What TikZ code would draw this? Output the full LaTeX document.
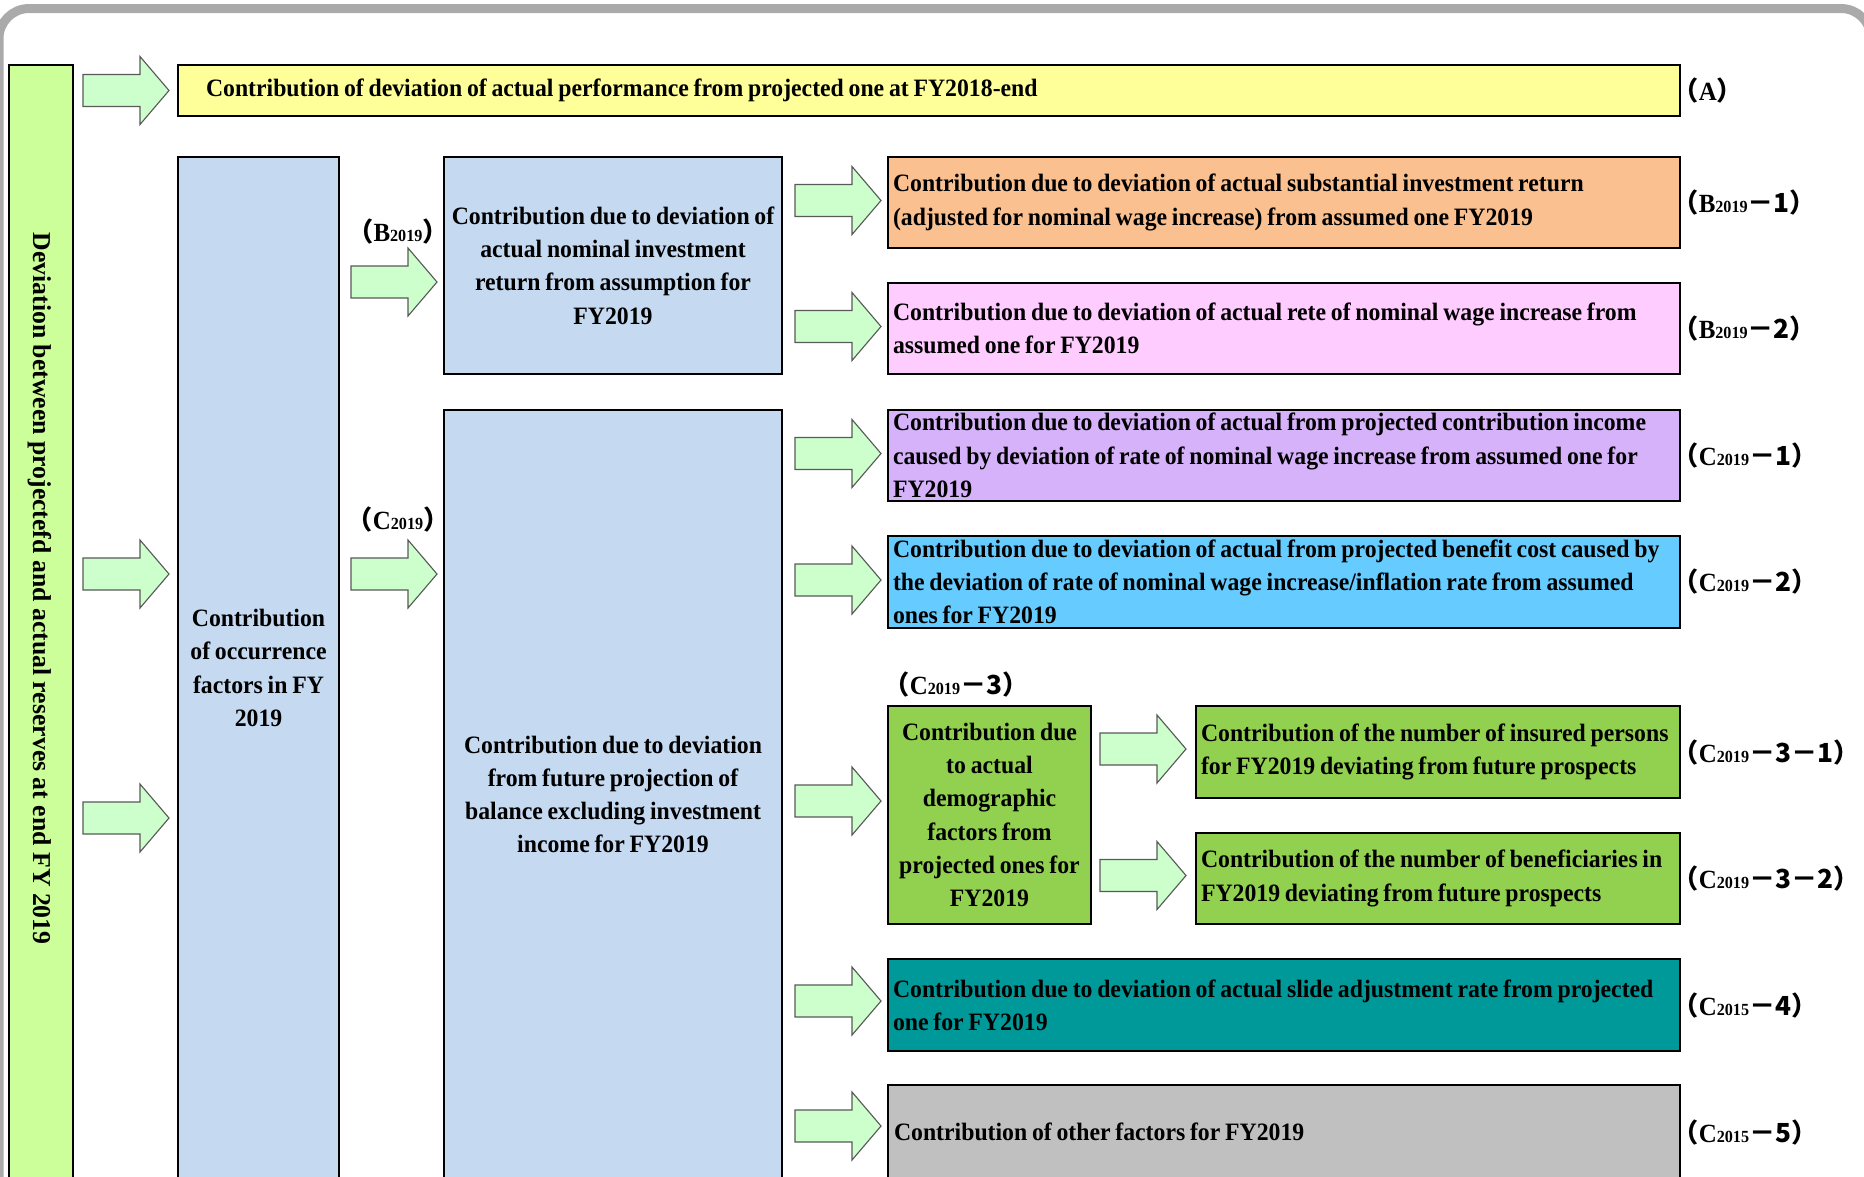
\documentclass[tikz,border=0pt]{standalone}
\usepackage{fontspec}
\setmainfont{Liberation Serif}[FakeStretch=0.95, WordSpace=0.8]
\newfontfamily\vertfont{Liberation Serif}
\newfontfamily\jpfont{Noto Sans CJK JP}
\usepackage{tikz}
\usetikzlibrary{positioning,calc}
\definecolor{devgreen}{HTML}{CCFF99}
\definecolor{yel}{HTML}{FFFF99}
\definecolor{lblue}{HTML}{C5D9F1}
\definecolor{orng}{HTML}{FAC090}
\definecolor{pnk}{HTML}{FFCCFF}
\definecolor{lav}{HTML}{D6B2FA}
\definecolor{sky}{HTML}{66CCFF}
\definecolor{grn}{HTML}{92D050}
\definecolor{tealbox}{HTML}{009999}
\definecolor{gry}{HTML}{C0C0C0}
\definecolor{arrowfill}{HTML}{CCFFCC}
\definecolor{frame}{HTML}{AAAAAA}
\newcommand{\jpch}[1]{{\jpfont\bfseries #1}}
\newcommand{\yrsub}[1]{{\fontsize{6.8}{6.8}\selectfont #1}}

\begin{document}
\begin{tikzpicture}[
  x=0.4pt, y=-0.4pt,
  box/.style={draw=black, line width=0.8pt, inner sep=0pt,
    font=\bfseries\fontsize{10}{13.3}\selectfont},
  cell/.style n args={2}{box, anchor=north west,
    minimum width=#1*0.4pt, minimum height=#2*0.4pt},
  lefttext/.style={align=flush left, text width=#1*0.4pt},
  tag/.style={inner sep=0pt, font=\bfseries\fontsize{10.5}{12}\selectfont},
  arrowline/.style={draw=black!65, line width=0.45pt, fill=arrowfill},
  pics/fatarrow/.style={code={
    \draw[arrowline] (0,0) -- (-29,-34) -- (-29,-16) -- (-86,-16)
      -- (-86,16) -- (-29,16) -- (-29,34) -- cycle;}}
]
\useasboundingbox (0,0) rectangle (1864,1176);
\clip (0,0) rectangle (1864,1176);
\draw[frame, line width=3.6pt, rounded corners=12pt] (-1,8.5) rectangle (1871,1400);

% left column
\node[cell={64}{1116}, fill=devgreen] (dev) at (8,64) {};
\node[rotate=-90, anchor=west, inner sep=0pt, font=\vertfont\bfseries\fontsize{10.3}{12}\selectfont]
  (devtext) at (40,232) {Deviation between projectefd and actual reserves at end FY 2019};
\node[cell={1502}{51}, fill=yel, lefttext=1446] (a) at (177,64)
  {Contribution of deviation of actual performance from projected one at FY2018-end};
\node[cell={161}{1022}, fill=lblue, align=center] (occ) at (177,156)
  {Contribution\\of occurrence\\factors in FY\\2019};

% middle column
\node[cell={338}{217}, fill=lblue, align=center] (bbox) at (443,156)
  {Contribution due to deviation of\\actual nominal investment\\return from assumption for\\FY2019};
\node[cell={338}{769}, fill=lblue, align=center] (cbox) at (443,409)
  {Contribution due to deviation\\from future projection of\\balance excluding investment\\income for FY2019};
\node[tag] (btag) at ($(bbox.north west)+(-45,76)$) {\jpch{（}B\yrsub{2019}\jpch{）}};
\node[tag] (ctag) at ($(cbox.north west)+(-45,111)$) {\jpch{（}C\yrsub{2019}\jpch{）}};

% right column
\node[cell={792}{91}, fill=orng, lefttext=782] (b1) at (887,156)
  {Contribution due to deviation of actual substantial investment return\\(adjusted for nominal wage increase) from assumed one FY2019};
\node[cell={792}{91}, fill=pnk, lefttext=782] (b2) at (887,282)
  {Contribution due to deviation of actual rete of nominal wage increase from\\assumed one for FY2019};
\node[cell={792}{91}, fill=lav, lefttext=782] (c1) at (887,409)
  {Contribution due to deviation of actual from projected contribution income\\caused by deviation of rate of nominal wage increase from assumed one for\\FY2019};
\node[cell={792}{92}, fill=sky, lefttext=782] (c2) at (887,535)
  {Contribution due to deviation of actual from projected benefit cost caused by\\the deviation of rate of nominal wage increase/inflation rate from assumed\\ones for FY2019};
\node[cell={203}{218}, fill=grn, align=center] (c3) at (887,705)
  {Contribution due\\to actual\\demographic\\factors from\\projected ones for\\FY2019};
\node[tag, anchor=west] (c3tag) at ($(c3.north west)+(-4,-20)$)
  {\jpch{（}C\yrsub{2019}\jpch{－3）}};
\node[cell={484}{92}, fill=grn, lefttext=474] (c31) at (1195,705)
  {Contribution of the number of insured persons\\for FY2019 deviating from future prospects};
\node[cell={484}{91}, fill=grn, lefttext=474] (c32) at (1195,832)
  {Contribution of the number of beneficiaries in\\FY2019 deviating from future prospects};
\node[cell={792}{92}, fill=tealbox, lefttext=782] (c4) at (887,958)
  {Contribution due to deviation of actual slide adjustment rate from projected\\one for FY2019};
\node[cell={792}{110}, fill=gry] (c5) at (887,1084) {};
\node[box, draw=none, anchor=west] (c5text) at ($(c5.north west)+(6,48)$)
  {Contribution of other factors for FY2019};

% labels on the right
\node[tag, right=-3.6pt of a] (atag) {\jpch{（}A\jpch{）}};
\node[tag, right=-3.6pt of b1] (b1tag) {\jpch{（}B\yrsub{2019}\jpch{－1）}};
\node[tag, right=-3.6pt of b2] (b2tag) {\jpch{（}B\yrsub{2019}\jpch{－2）}};
\node[tag, right=-3.6pt of c1] (c1tag) {\jpch{（}C\yrsub{2019}\jpch{－1）}};
\node[tag, right=-3.6pt of c2] (c2tag) {\jpch{（}C\yrsub{2019}\jpch{－2）}};
\node[tag, right=-3.6pt of c31] (c31tag) {\jpch{（}C\yrsub{2019}\jpch{－3－1）}};
\node[tag, right=-3.6pt of c32] (c32tag) {\jpch{（}C\yrsub{2019}\jpch{－3－2）}};
\node[tag, right=-3.6pt of c4] (c4tag) {\jpch{（}C\yrsub{2015}\jpch{－4）}};
\node[tag, anchor=west] (c5tag) at ($(c5.north east)+(-9,48)$) {\jpch{（}C\yrsub{2015}\jpch{－5）}};

% block arrows
\pic at ($(a.west)+(-8,0)$) {fatarrow};
\pic at ($(occ.north west)+(-8,418)$) {fatarrow};
\pic at ($(occ.north west)+(-8,662)$) {fatarrow};
\pic at ($(bbox.north west)+(-6,126)$) {fatarrow};
\pic at ($(cbox.north west)+(-6,165)$) {fatarrow};
\foreach \n in {b1,b2,c1,c2}
  \pic at ($(\n.west)+(-6,-2)$) {fatarrow};
\pic at ($(c3.west)+(-6,-14)$) {fatarrow};
\pic at ($(c4.west)+(-6,-4)$) {fatarrow};
\pic at ($(c5.north west)+(-6,42)$) {fatarrow};
\pic at ($(c31.west)+(-9,-3)$) {fatarrow};
\pic at ($(c32.west)+(-9,-3)$) {fatarrow};
\end{tikzpicture}
\end{document}
